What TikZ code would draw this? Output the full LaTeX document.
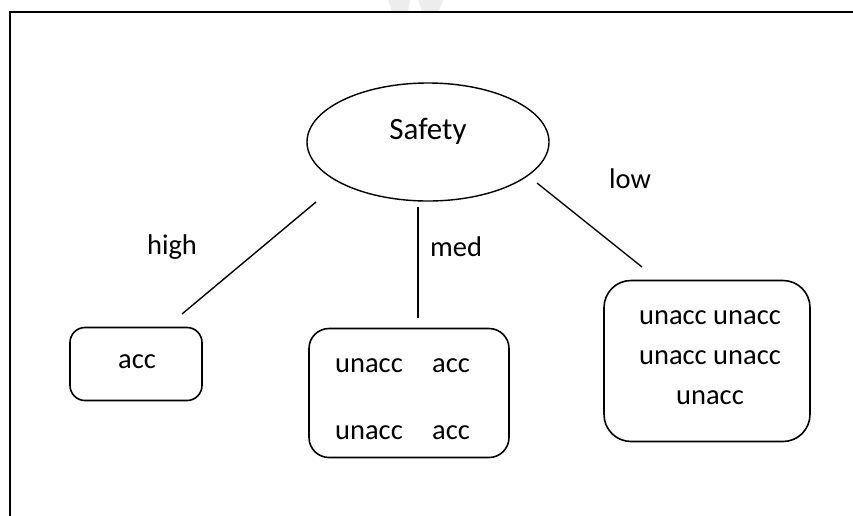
\documentclass[tikz,border=0pt]{standalone}
\usepackage{fontspec}
\setmainfont{Carlito}
\usetikzlibrary{shapes.geometric}
\begin{document}
\begin{tikzpicture}[x=1pt,y=-1pt,
  every node/.style={font=\fontsize{28.5}{40}\selectfont},
  outcome/.style={draw,line width=1.6pt,align=center},
  branch/.style={line width=1.4pt},
  edgelabel/.style={inner sep=0pt}]
\useasboundingbox (0,0) rectangle (853,515);
% faint mark at the top edge
\fill[black!7] (388,0) -- (410,0) -- (408,11) -- (392,11) -- cycle;
\fill[black!7] (418,0) -- (443,0) -- (439,11) -- (422,11) -- cycle;
% outer frame, open beyond the right and bottom edges
\draw[line width=2pt] (10,530) -- (10,12) -- (870,12);
% root attribute
\node[draw,ellipse,line width=1.4pt,minimum width=242pt,minimum height=118pt,inner sep=0pt] (safety) at (428,142) {};
\node[font=\fontsize{31}{36}\selectfont] (safetytext) at (428,131) {Safety};
% leaves
\node[outcome,rounded corners=15pt,minimum width=132pt,minimum height=73pt] (leafhigh) at (136,364) {};
\node (acctext) at (137,362) {acc};
\node[outcome,rounded corners=20pt,minimum width=200pt,minimum height=129pt] (leafmed) at (409,393) {};
\node (m1) at (369,366) {unacc};
\node (m2) at (451,366) {acc};
\node (m3) at (369,433) {unacc};
\node (m4) at (451,433) {acc};
\node[outcome,rounded corners=27pt,minimum width=206pt,minimum height=161pt] (leaflow) at (707,361) {};
\node[align=center] (lowtext) at (710,358) {unacc unacc\\unacc unacc\\unacc};
% branch ends
\coordinate (h1) at (316,202);
\coordinate (h2) at (182,314);
\coordinate (d1) at (418,207);
\coordinate (d2) at (418,318);
\coordinate (l1) at (537,183);
\coordinate (l2) at (642,267);
\draw[branch] (h1) -- (h2);
\draw[branch] (d1) -- (d2);
\draw[branch] (l1) -- (l2);
% branch values
\node[edgelabel] (lhigh) at (172,247) {high};
\node[edgelabel] (lmed) at (456,247) {med};
\node[edgelabel] (llow) at (630,179) {low};
\end{tikzpicture}
\end{document}
